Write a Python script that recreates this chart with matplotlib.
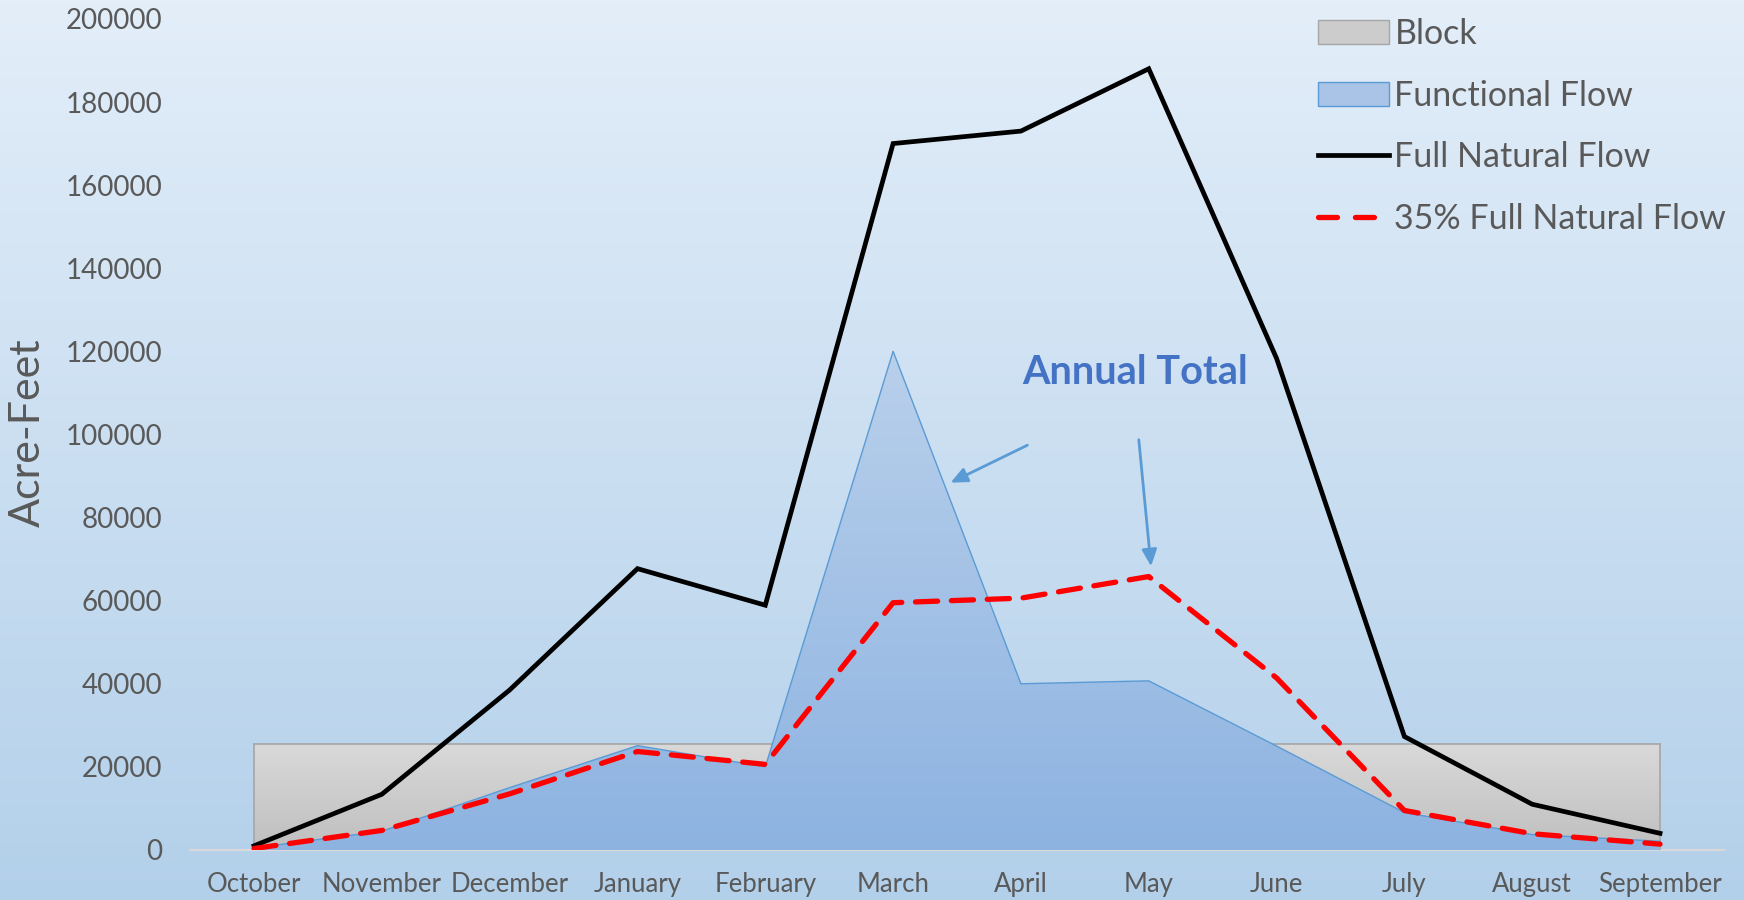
import numpy as np
import matplotlib.pyplot as plt
from matplotlib.colors import LinearSegmentedColormap
from matplotlib.patches import Patch
from matplotlib.lines import Line2D

plt.rcParams['font.family'] = ['Lato', 'DejaVu Sans']

# datos
meses = ['October', 'November', 'December', 'January', 'February', 'March',
         'April', 'May', 'June', 'July', 'August', 'September']
block = [25500] * 12
functional = [500, 4500, 15000, 25100, 20000, 120000, 40000, 40700, 25000, 9000, 3700, 2100]
full_natural = [1000, 13400, 38500, 67700, 58900, 170000, 173000, 188000, 118300, 27300, 11000, 4000]
natural_35 = [350, 4700, 13500, 23700, 20600, 59500, 60600, 65800, 41400, 9500, 3900, 1400]

x = np.arange(len(meses))

fig = plt.figure(figsize=(17.44, 9), dpi=100)

# fondo degradado de toda la figura
bg = fig.add_axes([0, 0, 1, 1], zorder=-10)
bg_cmap = LinearSegmentedColormap.from_list('bg', ['#b3d0ea', '#e3eef9'])
bg.imshow(np.linspace(0, 1, 256).reshape(-1, 1), cmap=bg_cmap, aspect='auto',
          origin='lower', extent=[0, 1, 0, 1])
bg.axis('off')

ax = fig.add_axes([0.109, 0.0556, 0.8795, 0.9234])
ax.patch.set_alpha(0)


def grad_area(ax, xs, ys, c_bot, c_top, edge, lw, z):
    poly = ax.fill_between(xs, ys, 0, facecolor='none', edgecolor='none', zorder=z)
    cmap = LinearSegmentedColormap.from_list('g', [c_bot, c_top])
    img = ax.imshow(np.linspace(0, 1, 256).reshape(-1, 1), cmap=cmap, aspect='auto',
                    origin='lower', extent=[xs[0], xs[-1], 0, max(ys)], zorder=z)
    img.set_clip_path(poly.get_paths()[0], transform=ax.transData)
    ax.plot(xs, ys, color=edge, lw=lw, zorder=z + 0.1)
    return img


# Block
grad_area(ax, x, block, '#bfbfbf', '#d9d9d9', '#a6a6a6', 1.2, 1)
ax.plot([x[0], x[0]], [0, block[0]], color='#a6a6a6', lw=1.2, zorder=1.1)
ax.plot([x[-1], x[-1]], [0, block[-1]], color='#a6a6a6', lw=1.2, zorder=1.1)

# Functional Flow
grad_area(ax, x, functional, '#8db3e1', '#b9d0eb', '#5b9bd5', 1.0, 2)

# lineas
ax.plot(x, full_natural, color='black', lw=3.4, zorder=4, solid_joinstyle='miter')
ax.plot(x, natural_35, color='#ff0000', lw=3.8, zorder=5, dashes=(4.2, 2.6),
        dash_capstyle='round')

# anotacion
ax.text(6.89, 115000, 'Annual Total', color='#4472c4', fontsize=28.5, fontweight='bold',
        ha='center', va='center', zorder=6)
ax.annotate('', xy=(5.43, 88100), xytext=(6.07, 97700),
            arrowprops=dict(arrowstyle='-|>,head_length=1.0,head_width=0.45',
                            color='#5b9bd5', lw=2), zorder=6)
ax.annotate('', xy=(7.02, 67600), xytext=(6.92, 99400),
            arrowprops=dict(arrowstyle='-|>,head_length=1.0,head_width=0.45',
                            color='#5b9bd5', lw=2), zorder=6)

ax.set_xlim(-0.5, 11.5)
ax.set_ylim(0, 200000)
ax.set_yticks(np.arange(0, 200001, 20000))
ax.set_xticks(x)
ax.set_xticklabels(meses)
ax.tick_params(axis='both', length=0, colors='#595959')
ax.tick_params(axis='y', labelsize=20, pad=20)
ax.tick_params(axis='x', labelsize=18.5, pad=16)
for s in ['top', 'right', 'left']:
    ax.spines[s].set_visible(False)
ax.spines['bottom'].set_color('#d9d9d9')
ax.spines['bottom'].set_linewidth(1.5)
ax.spines['bottom'].set_zorder(0.5)

fig.text(0.016, 0.519, 'Acre-Feet', rotation=90, fontsize=31, color='#595959',
         ha='center', va='center')

handles = [Patch(facecolor='#cccccc', edgecolor='#a6a6a6', label='Block'),
           Patch(facecolor='#a9c4e6', edgecolor='#5b9bd5', label='Functional Flow'),
           Line2D([], [], color='black', lw=3.4, label='Full Natural Flow'),
           Line2D([], [], color='#ff0000', lw=3.8, dashes=(3.6, 3.4),
                  dash_capstyle='round', label='35% Full Natural Flow')]
leg = ax.legend(handles=handles, loc='upper right', bbox_to_anchor=(1.0215, 1.038),
                frameon=False, fontsize=24.5, labelcolor='#595959', handlelength=2.1,
                handleheight=0.7, handletextpad=0.15, labelspacing=0.87)
leg.set_zorder(7)

fig.savefig('out.png', dpi=100)
